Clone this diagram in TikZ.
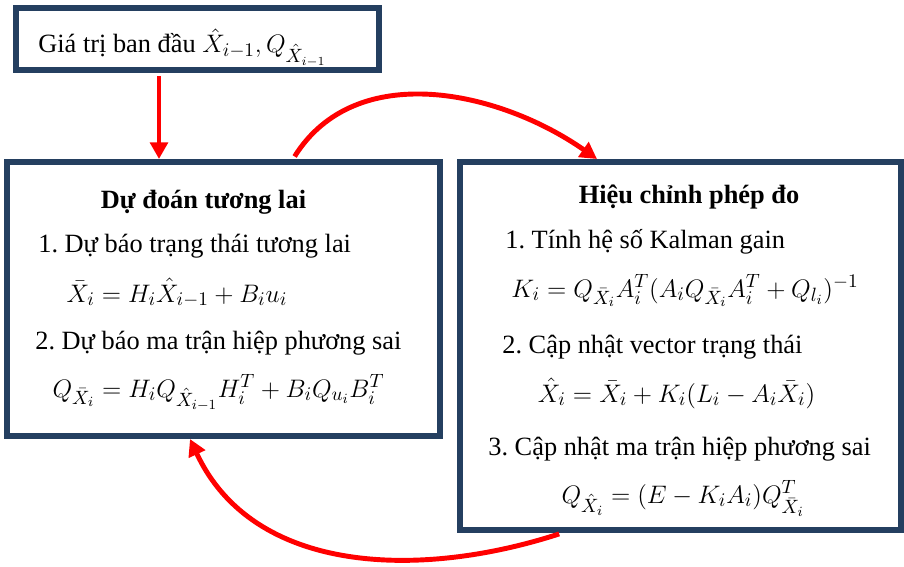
\documentclass[tikz,border=0pt]{standalone}
\usepackage{amsmath,amssymb}
\usepackage{fontspec}
\setmainfont{Liberation Serif}
\usepackage{xcolor}
\usetikzlibrary{arrows.meta,calc,positioning}
\definecolor{navy}{RGB}{36,63,96}
\frenchspacing
\tikzset{
  blk/.style={rectangle, draw=navy, line width=3.4pt, fill=white, inner sep=0pt},
  item/.style={anchor=base west, inner sep=0pt, font=\fontsize{15}{18}\selectfont},
  ttl/.style={anchor=base, inner sep=0pt, font=\fontsize{15}{18}\selectfont\bfseries},
  eqn/.style={anchor=base, inner sep=0pt, font=\fontsize{15.5}{18}\selectfont},
  arr/.style={draw=red, line width=2.8pt, shorten <=1.7pt, -{Triangle[length=9.5pt,width=10pt]}},
  every picture/.style={line join=miter}
}

\begin{document}
\begin{tikzpicture}
    \useasboundingbox (0,0) rectangle (18.08,-11.32);

    % boxes
    \node[blk, minimum width=7.26cm, minimum height=1.24cm] (init) at (3.95,-0.78) {};
    \node[blk, minimum width=8.66cm, minimum height=5.48cm] (pred) at (4.47,-5.98) {};
    \node[blk, minimum width=8.82cm, minimum height=7.36cm] (corr) at (13.61,-6.92) {};

    % initial values
    \node[item] (t0) at (0.76,-1.06) {Giá trị ban đầu $\hat{X}_{i-1}, Q_{\hat{X}_{i-1}}$};

    % prediction
    \node[ttl] (p0) at (4.07,-4.18) {Dự đoán tương lai};
    \node[item] (p1) at (0.76,-5.04) {1. Dự báo trạng thái tương lai};
    \node[eqn] (p2) at (3.54,-6.04) {$\bar{X}_i = H_i\hat{X}_{i-1} + B_i u_i$};
    \node[item] (p3) at (0.70,-6.98) {2. Dự báo ma trận hiệp phương sai};
    \node[eqn] (p4) at (4.37,-7.94) {$Q_{\bar{X}_i} = H_i Q_{\hat{X}_{i-1}} H_i^T + B_i Q_{u_i} B_i^T$};

    % correction
    \node[ttl] (c0) at (13.78,-4.06) {Hiệu chỉnh phép đo};
    \node[item] (c1) at (10.10,-4.96) {1. Tính hệ số Kalman gain};
    \node[eqn] (c2) at (13.70,-5.94) {$K_i = Q_{\bar{X}_i} A_i^T (A_i Q_{\bar{X}_i} A_i^T + Q_{l_i})^{-1}$};
    \node[item] (c3) at (10.04,-7.06) {2. Cập nhật vector trạng thái};
    \node[eqn] (c4) at (13.53,-8.04) {$\hat{X}_i = \bar{X}_i + K_i(L_i - A_i\bar{X}_i)$};
    \node[item] (c5) at (9.76,-9.10) {3. Cập nhật ma trận hiệp phương sai};
    \node[eqn] (c6) at (13.66,-10.06) {$Q_{\hat{X}_i} = (E - K_i A_i) Q^T_{\bar{X}_i}$};

    % flow
    \draw[arr] ([xshift=-0.77cm]init.south) -- ([xshift=-0.77cm]init.south |- pred.north);
    \draw[arr] ([xshift=1.39cm]pred.north) to[out=58,in=145] ([xshift=-1.67cm]corr.north);
    \draw[arr] ([xshift=-2.37cm]corr.south) to[out=198,in=-65] ([xshift=-0.67cm]pred.south);
  \end{tikzpicture}
\end{document}
